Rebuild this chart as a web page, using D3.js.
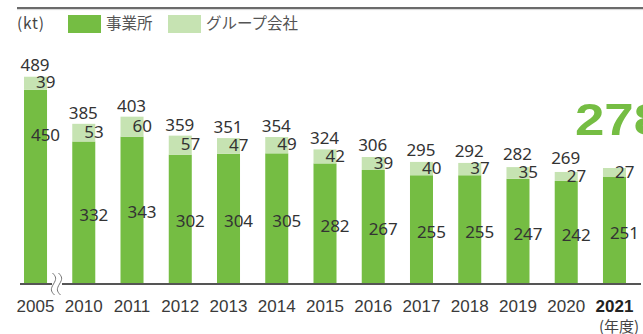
<!DOCTYPE html>
<html>
<head>
<meta charset="utf-8">
<script src="https://cdn.jsdelivr.net/npm/d3@7"></script>
<style>
  html, body { margin: 0; padding: 0; background: #fff; }
  svg { display: block; }
</style>
</head>
<body>
<svg id="chart" width="643" height="334"></svg>
<script>
// CO2 emissions by year (kt): own sites vs. group companies
const years = ["2005", "2010", "2011", "2012", "2013", "2014", "2015", "2016", "2017", "2018", "2019", "2020", "2021"];
const sites = [450, 332, 343, 302, 304, 305, 282, 267, 255, 255, 247, 242, 251];
const groupCos = [39, 53, 60, 57, 47, 49, 42, 39, 40, 37, 35, 27, 27];
const totals = [489, 385, 403, 359, 351, 354, 324, 306, 295, 292, 282, 269, 278];
const legendLabels = ["事業所", "グループ会社"];
const unitLabel = "(kt)";
const yearUnitLabel = "(年度)";

const GREEN = "#75bd43";
const LIGHT = "#c6e3b2";
const TEXT = "#333";

const svg = d3.select("#chart");
const axisY = 284;

const x = d3.scaleBand()
  .domain(years)
  .range([11.4, 638.6])
  .paddingInner(0.523)
  .paddingOuter(0.2615);

// main segment scale and the (compressed) group-company segment scale
const yMain = d3.scaleLinear().domain([0, 500]).range([287.1, 67.8]);
const yGroup = d3.scaleLinear().domain([0, 60]).range([0, 20]);

const rows = years.map((yr, i) => {
  const divide = yMain(sites[i]);
  const top = divide - yGroup(groupCos[i]);
  return { yr, i, site: sites[i], group: groupCos[i], total: totals[i], divide, top };
});

// header rule
svg.append("line").attr("x1", 17).attr("x2", 643).attr("y1", 8).attr("y2", 8)
  .attr("stroke", "#3a3a3a").attr("stroke-width", 1.6);
svg.append("line").attr("x1", 17).attr("x2", 643).attr("y1", 9.6).attr("y2", 9.6)
  .attr("stroke", "#d6d6d6").attr("stroke-width", 1);

// legend
svg.append("text").attr("x", 17).attr("y", 29)
  .attr("font-family", "'Noto Sans CJK JP', 'Noto Sans', sans-serif")
  .attr("font-size", 15.5).attr("letter-spacing", 0.8).attr("fill", "#444")
  .text(unitLabel);
const legend = svg.append("g");
[[68, GREEN, legendLabels[0]], [168, LIGHT, legendLabels[1]]].forEach(([lx, c, t]) => {
  legend.append("rect").attr("x", lx).attr("y", 15).attr("width", 33).attr("height", 18).attr("fill", c);
  legend.append("text").attr("x", lx + 38).attr("y", 29)
    .attr("font-family", "'Noto Sans CJK JP', sans-serif")
    .attr("font-size", 15.5).attr("fill", "#555").text(t);
});

// bars
const bars = svg.append("g");
bars.selectAll("rect.site").data(rows).join("rect")
  .attr("class", "site")
  .attr("x", d => x(d.yr)).attr("width", x.bandwidth())
  .attr("y", d => d.divide).attr("height", d => axisY - d.divide)
  .attr("fill", GREEN);
bars.selectAll("rect.group").data(rows).join("rect")
  .attr("class", "group")
  .attr("x", d => x(d.yr)).attr("width", x.bandwidth())
  .attr("y", d => d.top).attr("height", d => d.divide - d.top)
  .attr("fill", LIGHT);

// axis baseline with a break after the first year
svg.append("line").attr("x1", 20).attr("x2", 641).attr("y1", axisY).attr("y2", axisY)
  .attr("stroke", "#555").attr("stroke-width", 2);
const brk = (x0) => `M${x0},273 C${x0 + 4},277 ${x0 + 4},279 ${x0 + 1},284 S${x0 - 2},291 ${x0 + 2},295`;
svg.append("rect").attr("x", 52).attr("y", 281).attr("width", 10).attr("height", 6).attr("fill", "#fff");
[52.5, 58.5].forEach(bx => {
  svg.append("path").attr("d", brk(bx)).attr("fill", "none")
    .attr("stroke", "#666").attr("stroke-width", 0.9);
});

const numFont = "'Noto Sans', sans-serif";

// site values inside the dark segment
svg.append("g").selectAll("text").data(rows).join("text")
  .attr("x", d => x(d.yr) + x.bandwidth() / 2 + 10)
  .attr("y", d => d.i === 0
    ? d.divide + (axisY - d.divide) * 0.23
    : (d.divide + axisY) / 2 + 2)
  .attr("dy", "0.36em")
  .attr("text-anchor", "middle")
  .attr("font-family", numFont).attr("font-size", 17).attr("fill", TEXT)
  .text(d => d.site);

// group-company values beside the light segment
svg.append("g").selectAll("text").data(rows).join("text")
  .attr("x", d => x(d.yr) + x.bandwidth() / 2 + 0.5)
  .attr("y", d => (d.top + d.divide) / 2 - 1)
  .attr("dy", "0.36em")
  .attr("font-family", numFont).attr("font-size", 17).attr("fill", TEXT)
  .text(d => d.group);

// totals above each bar (latest year is called out separately)
const last = rows[rows.length - 1];
svg.append("g").selectAll("text").data(rows.slice(0, -1)).join("text")
  .attr("x", d => x(d.yr) + x.bandwidth() / 2 - 0.5)
  .attr("y", d => Math.min(d.top - 5, (d.top + d.divide) / 2 - 12.5))
  .attr("text-anchor", "middle")
  .attr("font-family", numFont).attr("font-size", 17).attr("fill", TEXT)
  .text(d => d.total);

// large call-out of the latest total, running off the right edge
svg.append("text")
  .attr("transform", "translate(575,135) scale(1.2,1)")
  .attr("font-family", "'Liberation Sans', Arial, sans-serif")
  .attr("font-weight", "bold").attr("font-size", 44)
  .attr("fill", GREEN)
  .text(last.total);

// year labels
svg.append("g").selectAll("text").data(rows).join("text")
  .attr("x", d => x(d.yr) + x.bandwidth() / 2)
  .attr("y", 312)
  .attr("text-anchor", "middle")
  .attr("font-family", "'Liberation Sans', Arial, sans-serif")
  .attr("font-size", 17)
  .attr("font-weight", d => d === last ? "bold" : "normal")
  .attr("fill", d => d === last ? "#222" : "#3a3a3a")
  .text(d => d.yr);

svg.append("text").attr("x", 599).attr("y", 332)
  .attr("font-family", "'Noto Sans CJK JP', sans-serif")
  .attr("font-size", 15).attr("fill", "#444")
  .text(yearUnitLabel);
</script>
</body>
</html>
